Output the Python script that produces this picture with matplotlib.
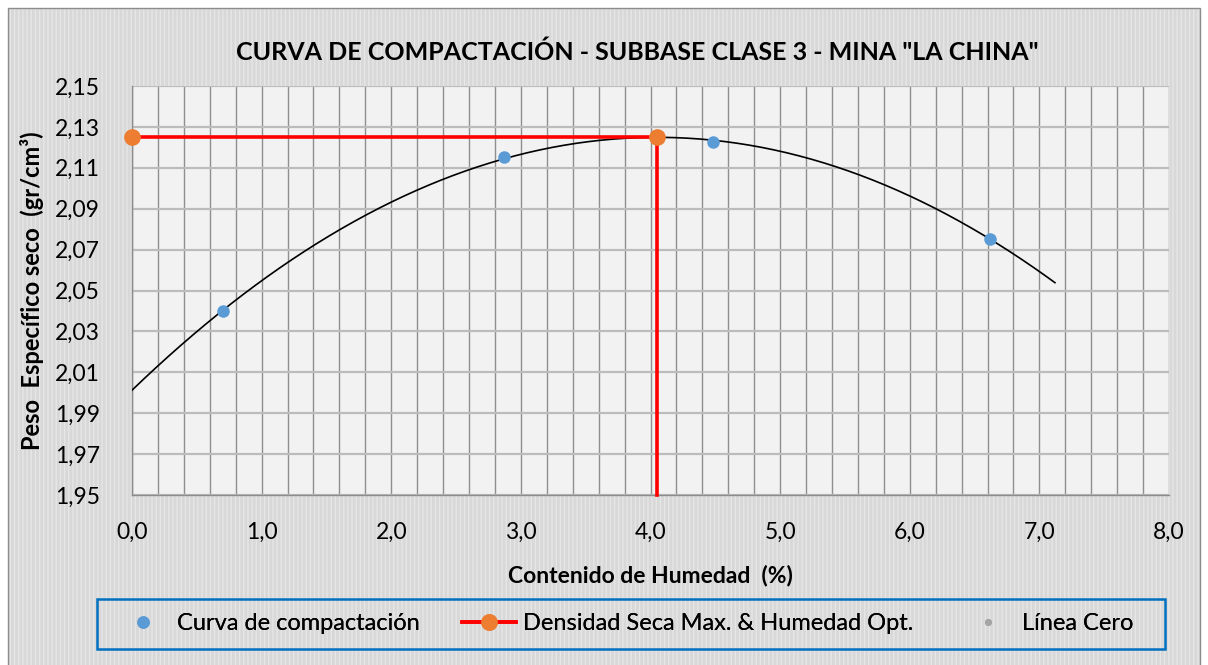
import numpy as np
import matplotlib
matplotlib.use("Agg")
import matplotlib.pyplot as plt
from matplotlib.lines import Line2D
from matplotlib.patches import Rectangle
from matplotlib.ticker import MultipleLocator, FixedLocator, FuncFormatter

# ---- data ----
humedad = [0.70, 2.87, 4.48, 6.62]              # Contenido de humedad (%)
peso_seco = [2.040, 2.1155, 2.1224, 2.0754]     # Peso especifico seco (gr/cm3)
hum_opt = 4.05                                  # Humedad optima
dens_max = 2.125                                # Densidad seca maxima
trend_back = 0.70                               # trendline backward forecast
trend_fwd = 0.50                                # trendline forward forecast
y_ticks = [1.95, 1.97, 1.99, 2.01, 2.03, 2.05, 2.07, 2.09, 2.11, 2.13, 2.15]
x_ticks = [0, 1, 2, 3, 4, 5, 6, 7, 8]
title = 'CURVA DE COMPACTACIÓN - SUBBASE CLASE 3 - MINA "LA CHINA"'
xlabel = 'Contenido de Humedad  (%)'
ylabel = 'Peso  Específico seco  (gr/cm³)'
legend_labels = ['Curva de compactación', 'Densidad Seca Max. & Humedad Opt.', 'Línea Cero']

plt.rcParams['font.family'] = ['Lato', 'DejaVu Sans']
plt.rcParams['hatch.linewidth'] = 1.0

W, H = 1208, 665
fig = plt.figure(figsize=(W / 100, H / 100), dpi=100, facecolor='white')

def fx(px):
    return px / W

def fy(py):
    return 1 - py / H

# chart area background with light vertical pattern
bg = Rectangle((fx(8), fy(680)), fx(1200) - fx(8), fy(8) - fy(680), transform=fig.transFigure,
               facecolor='#d8d8d8', edgecolor='#e6e6e6', linewidth=0, hatch='||||', zorder=-10)
fig.add_artist(bg)
border = Rectangle((fx(8), fy(680)), fx(1200) - fx(8), fy(8) - fy(680), transform=fig.transFigure,
                   facecolor='none', edgecolor='#8c8c8c', linewidth=1.0, zorder=-9)
fig.add_artist(border)

left, right, top, bottom = 132, 1169, 86, 495
ax = fig.add_axes([fx(left), fy(bottom), fx(right) - fx(left), fy(top) - fy(bottom)])
ax.set_facecolor('#f2f2f2')

ax.set_xlim(x_ticks[0], x_ticks[-1])
ax.set_ylim(y_ticks[0], y_ticks[-1])
ax.xaxis.set_major_locator(FixedLocator(x_ticks))
ax.xaxis.set_minor_locator(MultipleLocator(0.2))
ax.yaxis.set_major_locator(FixedLocator(y_ticks))
ax.xaxis.set_major_formatter(FuncFormatter(lambda v, p: f'{v:.1f}'.replace('.', ',')))
ax.yaxis.set_major_formatter(FuncFormatter(lambda v, p: f'{v:.2f}'.replace('.', ',')))
ax.grid(which='both', axis='x', color='#8f8f8f', linewidth=1.0)
ax.grid(which='major', axis='y', color='#bcbcbc', linewidth=1.6)
ax.set_axisbelow(True)
ax.tick_params(which='both', length=0, colors='black')
ax.tick_params(axis='y', labelsize=16.5, pad=23)
ax.tick_params(axis='x', labelsize=16.5, pad=19)
for s in ['top', 'right']:
    ax.spines[s].set_visible(False)
for s in ['left', 'bottom']:
    ax.spines[s].set_color('#8c8c8c')
    ax.spines[s].set_linewidth(1.0)

# polynomial trendline (order 2) as Excel draws it
coef = np.polyfit(humedad, peso_seco, 2)
xt = np.linspace(min(humedad) - trend_back, max(humedad) + trend_fwd, 300)
ax.plot(xt, np.polyval(coef, xt), color='black', linewidth=1.2, zorder=3)

# data points
ax.plot(humedad, peso_seco, linestyle='none', marker='o', markersize=8,
        color='#5b9bd5', zorder=4, clip_on=False)

# max density & optimum moisture
ax.plot([0, hum_opt, hum_opt], [dens_max, dens_max, y_ticks[0]], color='#ff0000',
        linewidth=2.6, zorder=5, clip_on=False)
ax.plot([0, hum_opt], [dens_max, dens_max], linestyle='none', marker='o', markersize=11,
        color='#ed7d31', zorder=6, clip_on=False)

# titles
fig.text(fx(637), fy(52), title, ha='center', va='center', fontsize=18, fontweight='bold')
ax.set_xlabel(xlabel, fontsize=16.5, fontweight='bold')
ax.xaxis.set_label_coords(0.5, (bottom - 575) / (bottom - top), transform=ax.transAxes)
ax.set_ylabel(ylabel, fontsize=17, fontweight='bold')
ax.yaxis.set_label_coords((32 - left) / (right - left), 0.5, transform=ax.transAxes)
ax.xaxis.label.set_va('center')
ax.yaxis.label.set_va('center')

# legend: frame + three entries placed like the reference
leg_top, leg_bot = 599, 649
frame = Rectangle((fx(97), fy(leg_bot)), fx(1165) - fx(97), fy(leg_top) - fy(leg_bot),
                  transform=fig.transFigure, facecolor='none', edgecolor='#0070c0',
                  linewidth=1.8, zorder=5)
fig.add_artist(frame)

handles = [
    Line2D([], [], linestyle='none', marker='o', markersize=8, color='#5b9bd5'),
    Line2D([], [], color='#ff0000', linewidth=2.6, marker='o', markersize=11,
           markerfacecolor='#ed7d31', markeredgecolor='#ed7d31'),
    Line2D([], [], linestyle='none', marker='o', markersize=4, color='#a5a5a5'),
]
leg_fs = 17
leg_x = [116, 462, 961]      # left edge of each legend handle (px)
ycen = fy((leg_top + leg_bot) / 2)
for h, lab, x0 in zip(handles, legend_labels, leg_x):
    lg = fig.legend([h], [lab], loc='center left', bbox_to_anchor=(fx(x0), ycen),
                    bbox_transform=fig.transFigure, fontsize=leg_fs, frameon=False,
                    handlelength=2.3, handletextpad=0.3, borderpad=0, borderaxespad=0)
    fig.add_artist(lg)

fig.savefig('out.png', dpi=100, facecolor='white')
